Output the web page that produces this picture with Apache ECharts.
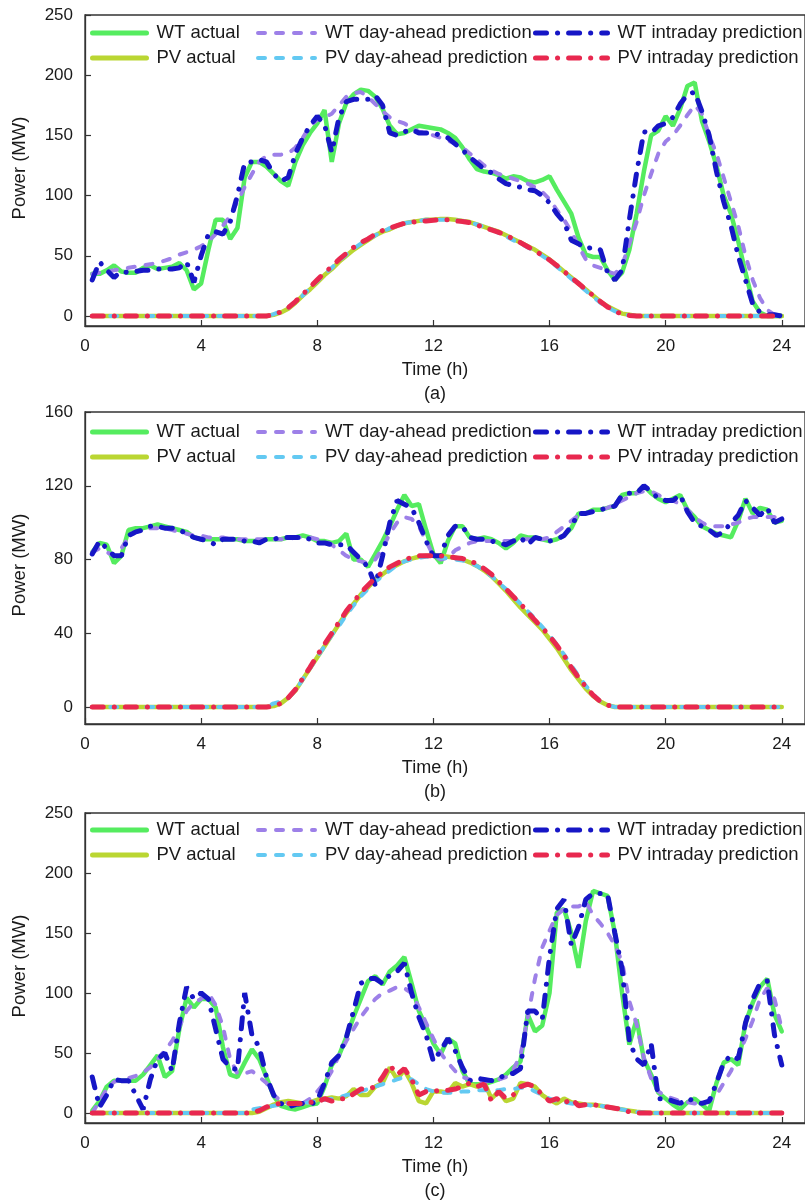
<!DOCTYPE html>
<html>
<head>
<meta charset="utf-8">
<script src="https://cdn.jsdelivr.net/npm/echarts@6/dist/echarts.min.js"></script>
<style>
html,body{margin:0;padding:0;background:#fff;}
#chart{width:805px;height:1203px;}
</style>
</head>
<body>
<div id="chart"></div>
<script>
// ---------- DATA ----------
const hours = [0.25,0.5,0.75,1, 1.25,1.5,1.75,2, 2.25,2.5,2.75,3, 3.25,3.5,3.75,4,
  4.25,4.5,4.75,5, 5.25,5.5,5.75,6, 6.25,6.5,6.75,7, 7.25,7.5,7.75,8,
  8.25,8.5,8.75,9, 9.25,9.5,9.75,10, 10.25,10.5,10.75,11, 11.25,11.5,11.75,12,
  12.25,12.5,12.75,13, 13.25,13.5,13.75,14, 14.25,14.5,14.75,15, 15.25,15.5,15.75,16,
  16.25,16.5,16.75,17, 17.25,17.5,17.75,18, 18.25,18.5,18.75,19, 19.25,19.5,19.75,20,
  20.25,20.5,20.75,21, 21.25,21.5,21.75,22, 22.25,22.5,22.75,23, 23.25,23.5,23.75,24];

const seriesNames = ['WT actual','PV actual','WT day-ahead prediction','PV day-ahead prediction','WT intraday prediction','PV intraday prediction'];
const xTicks = [0,4,8,12,16,20,24];
const yTicksA = [0,50,100,150,200,250];
const yTicksB = [0,40,80,120,160];
const yTicksC = [0,50,100,150,200,250];
const panelLabels = ['(a)','(b)','(c)'];

// Panel (a)
const wtActualA = [
35,35,38,42, 37,36,36,40, 42,39,40,41, 44,38,22,27,
55,80,80,64, 73,115,128,128, 124,118,112,108, 128,142,152,160,
171,128,160,177, 184,188,187,182, 172,158,151,152, 155,158,157,156,
155,152,148,140, 130,122,120,119, 117,114,116,115, 112,111,113,116,
105,95,85,65, 51,49,49,38, 30,36,55,85, 120,150,154,166,
158,172,191,194, 162,145,125,100, 85,62,36,12, 3,0,0,0];
const wtDayAheadA = [
35,36,37,38, 39,40,41,42, 43,44,46,48, 51,53,55,58,
62,68,75,83, 95,107,118,128, 133,134,134,135, 140,148,158,163,
165,168,175,182, 185,186,182,176, 170,165,162,160, 156,153,152,150,
148,146,143,140, 135,130,125,121, 118,116,114,112, 110,107,103,97,
88,80,70,58, 47,42,40,37, 35,42,60,78, 100,118,135,145,
150,158,167,175, 168,150,135,115, 95,75,50,30, 15,5,1,0];
const wtIntradayA = [
30,45,38,32, 37,36,37,38, 38,39,39,39, 40,45,28,50,
68,70,68,78, 100,127,128,130, 128,118,112,115, 135,148,158,166,
159,136,165,178, 180,180,180,183, 175,152,150,153, 155,152,152,152,
150,148,143,138, 132,127,122,119, 114,110,108,107, 105,104,100,94,
85,78,63,60, 56,57,55,36, 30,38,80,119, 153,152,158,160,
165,176,184,186, 170,150,120,95, 75,50,30,10, 3,1,1,0];
const pvActualA = [
0,0,0,0, 0,0,0,0, 0,0,0,0, 0,0,0,0,
0,0,0,0, 0,0,0,0, 0,1,3,6, 11,17,22,28,
34,39,45,50, 55,59,63,67, 70,72,75,77, 78,79,80,80,
80.5,80.5,80,79, 78,76,74,72, 70,67,64,61, 58,55,51,47,
42,37,32,27, 22,17,12,8, 5,2,1,0, 0,0,0,0,
0,0,0,0, 0,0,0,0, 0,0,0,0, 0,0,0,0];
const pvDayAheadA = [
0,0,0,0, 0,0,0,0, 0,0,0,0, 0,0,0,0,
0,0,0,0, 0,0,0,0, 0,1.5,4,7, 12,17,23,29,
35,40,46,51, 56,60,64,67, 70,73,75,77, 78,79,80,80,
80,80,79.5,79, 78,76,74,72, 69,66,63,60, 57,54,50,46,
41,36,31,26, 21,16,11,7, 4,1.5,0.5,0, 0,0,0,0,
0,0,0,0, 0,0,0,0, 0,0,0,0, 0,0,0,0];
const pvIntradayA = [
0,0,0,0, 0,0,0,0, 0,0,0,0, 0,0,0,0,
0,0,0,0, 0,0,0,0, 0,1,3.5,7, 12,18,24,30,
36,41,47,52, 57,61,64,68, 71,73,75,77, 78,78.5,79,79.5,
80,80,79,78.5, 77.5,75.5,73.5,71.5, 69.5,67,64,61, 57.5,54,50.5,46.5,
42,37,32,27, 22,17,12,7.5, 4,1.5,0.5,0, 0,0,0,0,
0,0,0,0, 0,0,0,0, 0,0,0,0, 0,0,0,0];

// Panel (b)
const wtActualB = [
84,89,88,78, 82,96,97,97, 98,99,98,97, 96,95,92,91,
91,91,91,91, 91,90,90,90, 91,91,91,92, 92,93,92,90,
90,89,90,94, 80,80,76,83, 90,98,107,115, 109,110,96,83,
78,90,98,98, 92,91,92,91, 89,86,89,93, 92,92,91,90,
91,93,97,105, 105,107,107,108, 109,115,116,116, 120,116,113,111,
113,115,107,103, 98,96,94,93, 92,101,113,105, 108,107,100,101];
const wtDayAheadB = [
84,86,84,82, 86,92,95,96, 97,97,97,96, 95,94,93,93,
92,92,92,91, 91,91,91,91, 91,91,91,91, 92,92,92,91,
90,88,85,82, 80,79,78,80, 86,94,100,103, 102,98,90,82,
80,81,85,87, 89,90,90,90, 90,90,90,91, 91,91,91,92,
95,98,101,104, 105,106,107,108, 110,112,114,116, 117,117,115,113,
112,110,107,103, 100,98,98,98, 99,100,102,103, 103,103,103,102];
const wtIntradayB = [
83,90,86,82, 82,93,95,96, 98,98,97,97, 96,94,92,91,
90,88,91,91, 91,90,90,89, 91,91,92,92, 92,92,91,89,
89,88,88,88, 84,80,76,66, 82,100,112,110, 108,100,90,82,
82,93,98,98, 92,91,91,90, 89,88,90,92, 88,92,91,90,
91,93,98,105, 105,106,107,108, 109,115,116,116, 120,117,113,112,
112,115,106,100, 98,96,93,95, 100,104,112,108, 104,108,100,102];
const pvActualB = [
0,0,0,0, 0,0,0,0, 0,0,0,0, 0,0,0,0, 0,0,0,0, 0,0,0,0,
0,0.5,2,5, 9,15,21,27,
33,39,45,51, 56,61,65,69, 72,75,77,79, 80.5,81.5,82,82,
82,81.5,81,80, 78.5,76.5,74,71, 67,63,58.5,54, 50,46,42,37,
32,26,20,15, 10,6,3,1, 0,0,0,0, 0,0,0,0,
0,0,0,0, 0,0,0,0, 0,0,0,0, 0,0,0,0];
const pvDayAheadB = [
0,0,0,0, 0,0,0,0, 0,0,0,0, 0,0,0,0, 0,0,0,0, 0,0,0,0,
0,2,3,5, 9,15,21,27,
33,39,44,50, 55,60,64,68, 71,74,77,79, 80,81,81.5,81.5,
81,80.5,80,79.5, 78.5,76.5,74,71, 67.5,64,60,56, 52,48,43.5,39,
34,28.5,22.5,17, 11.5,7,3,1, 0,0,0,0, 0,0,0,0,
0,0,0,0, 0,0,0,0, 0,0,0,0, 0,0,0,0];
const pvIntradayB = [
0,0,0,0, 0,0,0,0, 0,0,0,0, 0,0,0,0, 0,0,0,0, 0,0,0,0,
0,0.5,2,5, 9.5,15.5,21.5,28,
34,40,46,52, 57,62,66,70, 73,76,78,80, 81,82,82,82,
82,81.5,81,80.5, 79.5,77.5,75,72, 68,64,60,56, 51.5,47,43,38.5,
33.5,28,21.5,16, 11,6.5,3,1, 0,0,0,0, 0,0,0,0,
0,0,0,0, 0,0,0,0, 0,0,0,0, 0,0,0,0];

// Panel (c)
const wtActualC = [
2,10,22,27, 27,27,27,32, 40,48,30,35, 70,96,88,95,
95,88,55,32, 30,42,53,45, 30,14,6,4, 3,5,7,8,
22,40,48,63, 80,95,110,114, 107,118,123,130, 108,85,72,58,
49,62,58,35, 24,24,24,26, 28,32,38,43, 82,68,73,100,
167,170,150,121, 160,185,183,181, 150,100,57,78, 45,32,17,12,
7,3,9,12, 7,2,25,42, 45,40,75,92, 105,112,82,68];
const wtDayAheadC = [
0,10,20,26, 28,29,31,34, 38,45,52,60, 72,85,92,95,
100,90,72,45, 33,33,35,30, 25,15,10,8, 5,8,12,18,
25,35,48,60, 70,80,88,95, 100,102,105,104, 100,88,75,62,
50,42,35,30, 28,26,26,27, 28,30,36,48, 80,112,138,152,
165,170,172,172, 176,165,158,150, 140,126,93,74, 46,29,18,14,
12,10,9,8, 8,10,15,25, 35,48,62,77, 95,104,95,70];
const wtIntradayC = [
30,5,15,28, 27,27,15,3, 28,45,50,35, 75,105,95,100,
95,70,45,38, 36,100,65,55, 30,15,8,5, 7,8,7,10,
25,42,48,63, 85,108,112,112, 108,115,118,125, 100,80,65,43,
52,62,52,38, 27,29,28,27, 29,32,33,37, 85,85,78,130,
170,178,140,155, 178,183,183,182, 150,120,60,45, 40,58,12,12,
10,8,12,10, 8,10,25,42, 48,45,75,95, 108,110,65,40];
const pvActualC = [
0,0,0,0, 0,0,0,0, 0,0,0,0, 0,0,0,0, 0,0,0,0,
0,0,0,1, 4,7,9,10, 9,8,9,11,
12,13,12,14, 20,15,15,22, 25,38,28,36, 25,10,8,18,
18,17,25,22, 24,22,26,12, 18,10,12,25, 24,22,15,11,
8,12,9,8, 7,7,6,5, 4,3,2,1, 0.5,0,0,0,
0,0,0,0, 0,0,0,0, 0,0,0,0, 0,0,0,0];
const pvDayAheadC = [
0,0,0,0, 0,0,0,0, 0,0,0,0, 0,0,0,0, 0,0,0,0,
0,0,3,4, 5,6,7,8, 8,8,9,10,
11,12,13,15, 16,18,20,22, 24,26,28,30, 28,24,20,18,
17,17,17,18, 18,19,19,19, 19,20,20,21, 21,18,15,12,
10,9,8,7, 7,6,6,5, 4,3,2,1, 0.5,0,0,0,
0,0,0,0, 0,0,0,0, 0,0,0,0, 0,0,0,0];
const pvIntradayC = [
0,0,0,0, 0,0,0,0, 0,0,0,0, 0,0,0,0, 0,0,0,0,
0,0,0,2, 5,7,8,8, 8,8,9,9,
12,10,12,12, 16,20,20,22, 30,40,32,37, 28,15,18,18,
19,19,20,22, 25,22,24,10, 18,12,15,22, 24,22,15,10,
12,8,12,6, 7,7,6,5, 4,3,1,0, 0,0,0,0,
0,0,0,0, 0,0,0,0, 0,0,0,0, 0,0,0,0];

// ---------- STYLE / LAYOUT ----------
const FONT = "'Liberation Sans', Arial, Helvetica, sans-serif";
const TXT = '#1a1a1a';
const AX = '#333333';
const lineStyles = [
  {color:'#55EC5F', width:4.5, type:'solid', cap:'round'},
  {color:'#BAD632', width:4.5, type:'solid', cap:'round'},
  {color:'#9D80E8', width:4, type:[7,11], cap:'round'},
  {color:'#63C9F2', width:4, type:[7,11], cap:'round'},
  {color:'#1616C6', width:5, type:[11,11,0.1,11], cap:'round'},
  {color:'#E8284F', width:5, type:[11,11,0.1,11], cap:'round'}
];
const panels = [
  {data:[wtActualA,pvActualA,wtDayAheadA,pvDayAheadA,wtIntradayA,pvIntradayA], yTicks:yTicksA, yMin:-8.3, yMax:250, top:15, height:311, legendTop:23, yTitle:168},
  {data:[wtActualB,pvActualB,wtDayAheadB,pvDayAheadB,wtIntradayB,pvIntradayB], yTicks:yTicksB, yMin:-9.2, yMax:160, top:412, height:312, legendTop:422, yTitle:565},
  {data:[wtActualC,pvActualC,wtDayAheadC,pvDayAheadC,wtIntradayC,pvIntradayC], yTicks:yTicksC, yMin:-8.3, yMax:250, top:813, height:310, legendTop:820, yTitle:966}
];
const GRID_LEFT = 85, X_MAX = 24.8, PX_PER_H = 29.17;

const option = {animation:false, backgroundColor:'#fff', grid:[], xAxis:[], yAxis:[], series:[], legend:[], graphic:[]};
const legendCols = [
  {left:90, names:[0,1], w:54, lw:5},
  {left:256, names:[2,3], w:57, lw:4},
  {left:533, names:[4,5], w:72, lw:5}
];

panels.forEach((p, gi) => {
  option.grid.push({left:GRID_LEFT, top:p.top, width:X_MAX*PX_PER_H, height:p.height, show:true, borderColor:AX, borderWidth:1.3, backgroundColor:'transparent'});
  option.xAxis.push({
    gridIndex:gi, type:'value', min:0, max:X_MAX,
    axisLine:{show:true, onZero:false, lineStyle:{color:AX, width:1.3}},
    axisTick:{show:true, inside:true, length:6, customValues:xTicks, lineStyle:{color:AX, width:1.2}},
    axisLabel:{customValues:xTicks, margin:12, fontSize:17, color:TXT, fontFamily:FONT},
    splitLine:{show:false}
  });
  option.yAxis.push({
    gridIndex:gi, type:'value', min:p.yMin, max:p.yMax,
    axisLine:{show:true, onZero:false, lineStyle:{color:AX, width:1.3}},
    axisTick:{show:true, inside:true, length:6, customValues:p.yTicks, lineStyle:{color:AX, width:1.2}},
    axisLabel:{customValues:p.yTicks, margin:12, fontSize:17, color:TXT, fontFamily:FONT},
    splitLine:{show:false}
  });
  p.data.forEach((arr, si) => {
    option.series.push({
      type:'line', name:seriesNames[si], xAxisIndex:gi, yAxisIndex:gi,
      data: hours.map((h, k) => [h, arr[k]]),
      symbol:'none', showSymbol:false, smooth:false,
      lineStyle: Object.assign({}, lineStyles[si]),
      itemStyle:{color:lineStyles[si].color},
      emphasis:{disabled:true}, z: 2 + si
    });
  });
  legendCols.forEach(col => {
    option.legend.push({
      orient:'vertical', left:col.left, top:p.legendTop, padding:0,
      data: col.names.map(i => seriesNames[i]),
      itemWidth:col.w, itemHeight:14, itemGap:5,
      selectedMode:false,
      itemStyle:{opacity:0},
      lineStyle:{width:col.lw},
      textStyle:{fontSize:18.5, color:TXT, fontFamily:FONT, lineHeight:20, padding:[0,0,0,5]}
    });
  });
  const axisBottom = p.top + p.height;
  option.graphic.push(
    {type:'text', x:435, y:axisBottom+44, style:{text:'Time (h)', align:'center', verticalAlign:'middle', fontSize:18, fontFamily:FONT, fill:TXT}},
    {type:'text', x:435, y:axisBottom+68, style:{text:panelLabels[gi], align:'center', verticalAlign:'middle', fontSize:18, fontFamily:FONT, fill:TXT}},
    {type:'text', x:20, y:p.yTitle, rotation:Math.PI/2, style:{text:'Power (MW)', align:'center', verticalAlign:'middle', fontSize:18.5, fontFamily:FONT, fill:TXT}}
  );
});

const chart = echarts.init(document.getElementById('chart'), null, {renderer:'canvas', width:805, height:1203});
chart.setOption(option);
</script>
</body>
</html>
